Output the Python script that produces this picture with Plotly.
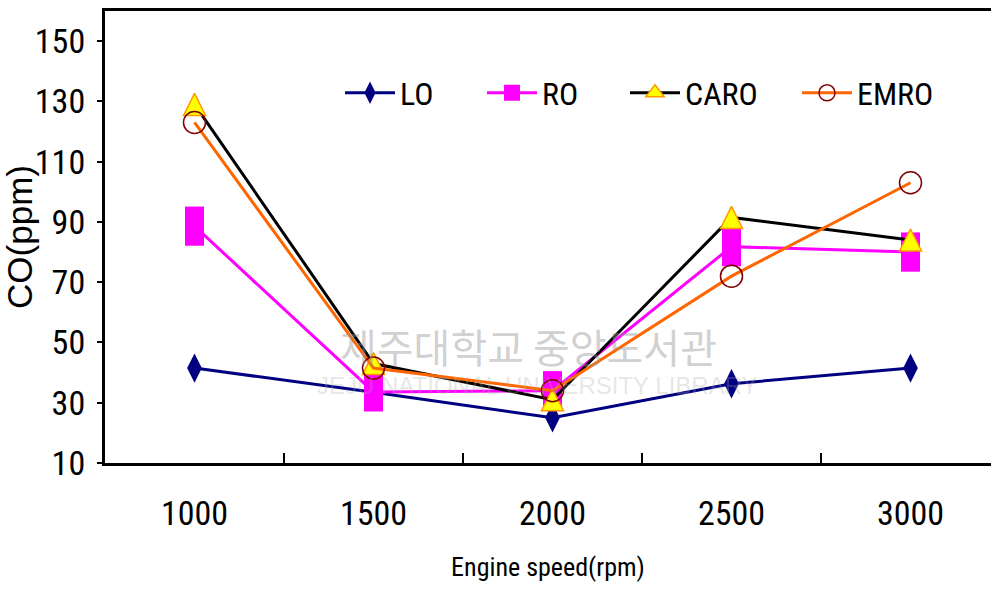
import plotly.graph_objects as go

# Engine speed categories and CO emissions (ppm) per fuel
speeds = ["1000", "1500", "2000", "2500", "3000"]
co_lo = [41.5, 33.5, 25, 36.3, 41.5]
co_ro = [88.6, 33.6, 34, 81.8, 80]
co_caro = [129, 43, 31, 91.5, 84]
co_emro = [123, 41.5, 34, 72, 103]

NARROW = "Roboto Condensed, DejaVu Sans Condensed, Liberation Sans, Arial"
REGULAR = "Liberation Sans, Arial"
LINE_W = 3

fig = go.Figure()

# data series (legend entries are drawn by separate legend-only traces below)
fig.add_trace(go.Scatter(
    x=speeds, y=co_lo, mode="lines+markers", name="LO", showlegend=False,
    line=dict(color="#000080", width=LINE_W),
    marker=dict(symbol="diamond-tall", size=21, color="#000080"),
))
fig.add_trace(go.Scatter(
    x=speeds, y=co_ro, mode="lines+markers", name="RO", showlegend=False,
    line=dict(color="#FF00FF", width=LINE_W),
    marker=dict(symbol="line-ns", size=28, color="#FF00FF",
                line=dict(color="#FF00FF", width=19)),
))
fig.add_trace(go.Scatter(
    x=speeds, y=co_caro, mode="lines+markers", name="CARO", showlegend=False,
    line=dict(color="#000000", width=LINE_W),
    marker=dict(symbol="arrow-down", angle=180, standoff=11, size=22,
                color="#FFFF00", line=dict(color="#FF9900", width=1.5)),
))
fig.add_trace(go.Scatter(
    x=speeds, y=co_emro, mode="lines+markers", name="EMRO", showlegend=False,
    line=dict(color="#FF6600", width=LINE_W),
    marker=dict(symbol="circle-open", size=22, color="#800000",
                line=dict(color="#800000", width=1.5)),
))

# legend entries, one legend box each so they can be spaced freely
legend_specs = [
    ("LO", "#000080", dict(symbol="diamond-tall", size=16, color="#000080"), "legend"),
    ("RO", "#FF00FF", dict(symbol="square", size=16, color="#FF00FF"), "legend2"),
    ("CARO", "#000000", dict(symbol="triangle-up", size=16, color="#FFFF00",
                            line=dict(color="#FF9900", width=1.5)), "legend3"),
    ("EMRO", "#FF6600", dict(symbol="circle-open", size=16, color="#800000",
                            line=dict(color="#800000", width=1.5)), "legend4"),
]
for name, lc, mk, lg in legend_specs:
    fig.add_trace(go.Scatter(
        x=[None], y=[None], mode="lines+markers", name=name, legend=lg,
        line=dict(color=lc, width=LINE_W), marker=mk,
    ))

PLOT_L, PLOT_R, PLOT_T, PLOT_B = 105, 991, 11, 463
W, H = 991, 594


def px_to_paper_x(px):
    return (px - PLOT_L) / (PLOT_R - PLOT_L)


def px_to_paper_y(py):
    return (PLOT_B - py) / (PLOT_B - PLOT_T)


legend_common = dict(
    orientation="h", yanchor="middle", xanchor="left",
    bgcolor="rgba(0,0,0,0)", borderwidth=0,
    font=dict(family=NARROW, size=32, color="#000000"),
    itemwidth=50, y=px_to_paper_y(93),
)
legend_left_px = [340, 482, 625, 797]

fig.update_layout(
    width=W, height=H,
    margin=dict(l=PLOT_L, r=W - PLOT_R, t=PLOT_T, b=H - PLOT_B, pad=0),
    paper_bgcolor="#FFFFFF", plot_bgcolor="#FFFFFF",
    legend=dict(legend_common, x=px_to_paper_x(legend_left_px[0])),
    legend2=dict(legend_common, x=px_to_paper_x(legend_left_px[1])),
    legend3=dict(legend_common, x=px_to_paper_x(legend_left_px[2])),
    legend4=dict(legend_common, x=px_to_paper_x(legend_left_px[3])),
    xaxis=dict(
        type="category", categoryorder="array", categoryarray=speeds,
        range=[-0.5, -0.5 + (PLOT_R - PLOT_L) / 179.0],
        tickson="boundaries", ticks="inside", ticklen=10, tickwidth=1.5,
        tickcolor="#000000",
        showline=True, linecolor="#000000", linewidth=3, mirror=True,
        showgrid=False, zeroline=False,
        tickfont=dict(family=NARROW, size=34, color="#000000"),
        ticklabelstandoff=18,
        title=dict(text="Engine speed(rpm)", standoff=27,
                   font=dict(family=NARROW, size=26, color="#000000")),
    ),
    yaxis=dict(
        range=[10, 160], tickvals=[10, 30, 50, 70, 90, 110, 130, 150],
        ticks="outside", ticklen=5, tickwidth=1.5, tickcolor="#000000",
        showline=True, linecolor="#000000", linewidth=3,
        showgrid=False, zeroline=False,
        tickfont=dict(family=NARROW, size=34, color="#000000"),
        ticklabelstandoff=5,
        title=dict(text="CO(ppm)", standoff=0,
                   font=dict(family=REGULAR, size=35, color="#000000")),
    ),
    annotations=[
        dict(text="제주대학교 중앙도서관", xref="paper", yref="paper",
             x=px_to_paper_x(528), y=px_to_paper_y(346), showarrow=False,
             xanchor="center", yanchor="middle",
             font=dict(family="Noto Sans CJK KR", size=40, color="rgba(150,150,150,0.45)")),
        dict(text="JEJU NATIONAL UNIVERSITY LIBRARY", xref="paper", yref="paper",
             x=px_to_paper_x(537), y=px_to_paper_y(385), showarrow=False,
             xanchor="center", yanchor="middle",
             font=dict(family="Liberation Sans", size=24, color="rgba(170,170,170,0.3)")),
    ],
)

fig.write_html("out.html")
